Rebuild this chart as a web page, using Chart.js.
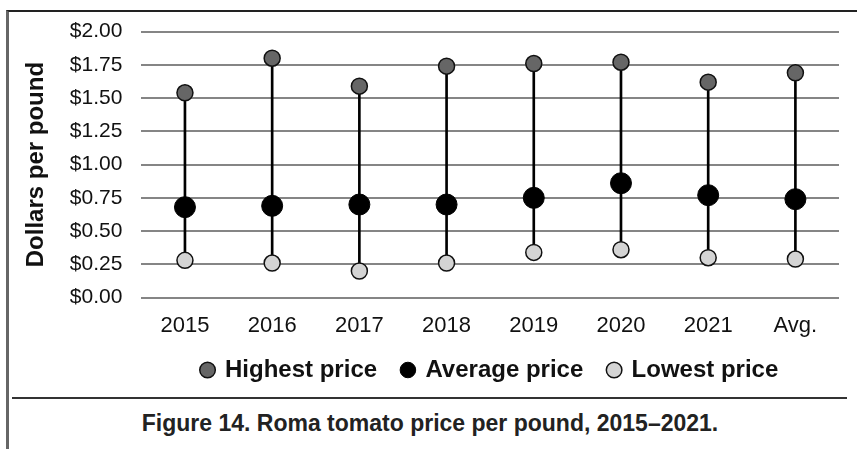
<!DOCTYPE html>
<html>
<head>
<meta charset="utf-8">
<script src="https://cdn.jsdelivr.net/npm/chart.js@4"></script>
<style>
  body { margin: 0; background: #fff; font-family: "Liberation Sans", Arial, sans-serif; }
  #frame { position: absolute; left: 6px; top: 10px; width: 851px; height: 439px;
           border-left: 3px solid #666; border-top: 2px solid #222; }
  #wrap { position: absolute; left: 0; top: 0; width: 857px; height: 392px; }
  #sep { position: absolute; left: 12px; top: 397px; width: 835px; height: 0; border-top: 2px solid #333; }
  #caption { position: absolute; left: 0; top: 410px; width: 860px; text-align: center;
             font-weight: bold; font-size: 23px; color: #222; }
</style>
</head>
<body>
<div id="frame"></div>
<div id="wrap"><canvas id="chart"></canvas></div>
<div id="sep"></div>
<div id="caption">Figure 14. Roma tomato price per pound, 2015–2021.</div>
<script>
const years = ['2015', '2016', '2017', '2018', '2019', '2020', '2021', 'Avg.'];
const highest = [1.54, 1.80, 1.59, 1.74, 1.76, 1.77, 1.62, 1.69];
const average = [0.68, 0.69, 0.70, 0.70, 0.75, 0.86, 0.77, 0.74];
const lowest = [0.28, 0.26, 0.20, 0.26, 0.34, 0.36, 0.30, 0.29];

// vertical connector from lowest to highest
const ranges = years.map((y, i) => [lowest[i], highest[i]]);

const fontFam = '"Liberation Sans", Arial, sans-serif';

const ctx = document.getElementById('chart').getContext('2d');
new Chart(ctx, {
    data: {
        labels: years,
        datasets: [
            {
                type: 'line', label: 'Highest price  ', data: highest, showLine: false,
                pointRadius: 8, pointHoverRadius: 8, pointBackgroundColor: '#666666',
                pointBorderColor: '#111', pointBorderWidth: 1.5, backgroundColor: '#666666',
                borderColor: '#111', order: 1
            },
            {
                type: 'line', label: 'Average price  ', data: average, showLine: false,
                pointRadius: 10.5, pointHoverRadius: 10.5, pointBackgroundColor: '#000',
                pointBorderColor: '#000', pointBorderWidth: 1, backgroundColor: '#000',
                borderColor: '#000', order: 2
            },
            {
                type: 'line', label: 'Lowest price', data: lowest, showLine: false,
                pointRadius: 8, pointHoverRadius: 8, pointBackgroundColor: '#d4d4d4',
                pointBorderColor: '#111', pointBorderWidth: 1.5, backgroundColor: '#d4d4d4',
                borderColor: '#111', order: 3
            },
            {
                type: 'bar', label: 'range', data: ranges, backgroundColor: '#000',
                barThickness: 2, order: 4
            }
        ]
    },
    options: {
        responsive: true,
        maintainAspectRatio: false,
        animation: false,
        layout: { padding: { left: 17, right: 18, top: 29, bottom: 0 } },
        plugins: {
            tooltip: { enabled: false },
            legend: {
                position: 'bottom',
                fullSize: false,
                labels: {
                    filter: item => item.text !== 'range',
                    usePointStyle: true,
                    pointStyle: 'circle',
                    boxWidth: 11,
                    boxHeight: 11,
                    padding: 12,
                    color: '#111',
                    font: { family: fontFam, size: 24, weight: 'bold' }
                }
            }
        },
        scales: {
            x: {
                offset: true,
                grid: { display: false },
                border: { display: false },
                ticks: {
                    padding: 7, color: '#111',
                    font: { family: fontFam, size: 22 }
                }
            },
            y: {
                min: 0, max: 2,
                grid: { color: '#858585', lineWidth: 2, drawTicks: false },
                border: { display: false },
                ticks: {
                    stepSize: 0.25, padding: 19, color: '#111',
                    font: { family: fontFam, size: 21 },
                    callback: v => '$' + v.toFixed(2)
                },
                title: {
                    display: true, text: 'Dollars per pound', color: '#111',
                    padding: { top: 5, bottom: 0 },
                    font: { family: fontFam, size: 24, weight: 'bold' }
                }
            }
        }
    }
});
</script>
</body>
</html>
